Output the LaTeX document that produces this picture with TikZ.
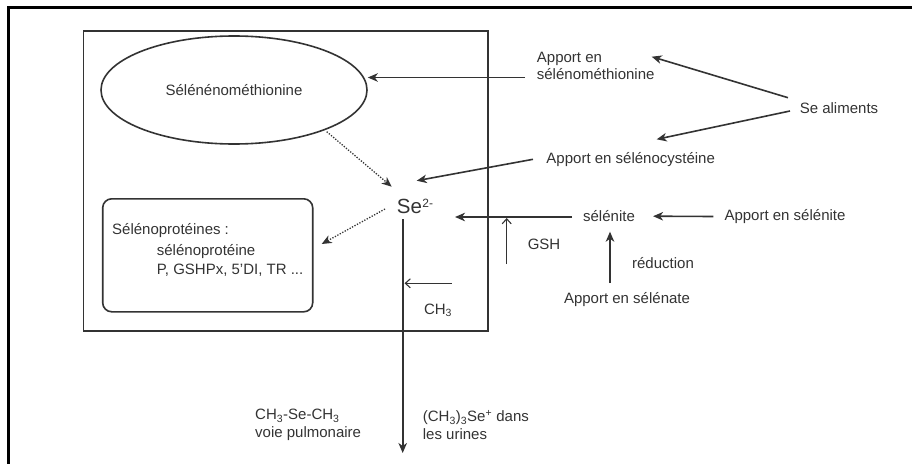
\documentclass[tikz,border=0pt]{standalone}
\usepackage{fontspec}
\setmainfont{Liberation Sans}
\usetikzlibrary{arrows.meta,shapes.geometric}
\definecolor{ink}{HTML}{333333}
\begin{document}
\begin{tikzpicture}[x=1pt,y=-1pt,
  every node/.style={inner sep=0pt,text=ink,font=\fontsize{15}{17.7}\selectfont},
  lbl/.style={anchor=west,align=left},
  arr/.style={draw=ink,line width=1.6pt,-{Stealth[length=10pt,width=8.5pt,inset=3pt]}},
  openarr/.style={draw=ink,line width=1.1pt,-{Straight Barb[length=5pt,width=9pt]}},
  dots/.style={draw=ink,line width=1.3pt,dash pattern=on 1.3pt off 1.5pt,-{Stealth[length=10pt,width=8.5pt,inset=3pt]}},
  outl/.style={draw=ink,line width=1.6pt}]
\useasboundingbox (0,0) rectangle (912,463);
% outer frame (left and top edges)
\draw[line width=2.6pt,black] (8.5,480) -- (8.5,7.5) -- (930,7.5);
% inner box
\node[outl,rectangle,minimum width=404.7pt,minimum height=300pt] (box) at (285.7,181) {};
% ellipse
\node[outl,ellipse,minimum width=266pt,minimum height=108pt] (ell) at (234,90) {Sélénénométhionine};
% selenoproteins box
\node[outl,rectangle,rounded corners=9pt,minimum width=210pt,minimum height=113pt] (prot) at (207.7,255.3) {};
\node[lbl] (p1) at (112,230.7) {Sélénoprotéines :};
\node[lbl] (p2) at (156.7,251.7) {sélénoprotéine};
\node[lbl] (p3) at (156.7,270) {P, GSHPx, 5'DI, TR ...};
% Se2-
\node[font=\fontsize{20.5}{22}\selectfont] (se) at (415,206) {Se\kern0.3pt\raisebox{0.5ex}{\fontsize{12}{12}\selectfont 2-}};
% right side texts
\node[lbl] (apm) at (536.7,66) {Apport en\\sélénométhionine};
\node (sea) at (839,108.5) {Se aliments};
\node (apc) at (630.7,159.5) {Apport en sélénocystéine};
\node (sel) at (609,216.5) {sélénite};
\node (asi) at (785,216.5) {Apport en sélénite};
\node (gsh) at (544,244) {GSH};
\node (red) at (663,263) {réduction};
\node (asn) at (627,300) {Apport en sélénate};
\node (ch3) at (438,310) {CH\textsubscript{3}};
% bottom texts
\node[lbl] (pulm) at (255,425) {CH\textsubscript{3}-Se-CH\textsubscript{3}\\voie pulmonaire};
\node[lbl] (urin) at (422.7,425) {(CH\textsubscript{3})\textsubscript{3}Se\textsuperscript{+} dans\\les urines};
% connectors
\coordinate (apmout) at (525,77.5);
\draw[arr] (apmout) -- (apmout -| ell.east);
\coordinate (sea1) at (788,97.7);
\coordinate (apmin) at (651.7,56.7);
\draw[arr] (sea1) -- (apmin);
\coordinate (sea2) at (790,111);
\coordinate (apcin) at (656.7,139.3);
\draw[arr] (sea2) -- (apcin);
\coordinate (apcout) at (533,159.3);
\coordinate (sein) at (416.7,180.7);
\draw[arr] (apcout) -- (sein);
\coordinate (ellout) at (326.7,131.7);
\coordinate (sein2) at (391.7,186.7);
\draw[dots] (ellout) -- (sein2);
\coordinate (seout) at (385,209);
\coordinate (protin) at (321.7,244);
\draw[dots] (seout) -- (protin);
\coordinate (setop) at (402.7,219);
\coordinate (sebot) at (402.7,453);
\draw[arr] (setop) -- (sebot);
\coordinate (ch3a) at (451.7,283.3);
\coordinate (ch3b) at (404.5,283.3);
\draw[openarr] (ch3a) -- (ch3b);
\coordinate (selout) at (572,217);
\coordinate (sein3) at (455,217);
\draw[arr] (selout) -- (sein3);
\coordinate (gsha) at (506.7,264);
\coordinate (gshb) at (506.7,218);
\draw[openarr] (gsha) -- (gshb);
\draw[arr] ([xshift=-11pt]asi.west) -- ([xshift=18pt,yshift=0.3pt]sel.east);
\coordinate (asnout) at (610,283);
\coordinate (selin) at (610,231.7);
\draw[arr] (asnout) -- (selin);
\end{tikzpicture}
\end{document}
